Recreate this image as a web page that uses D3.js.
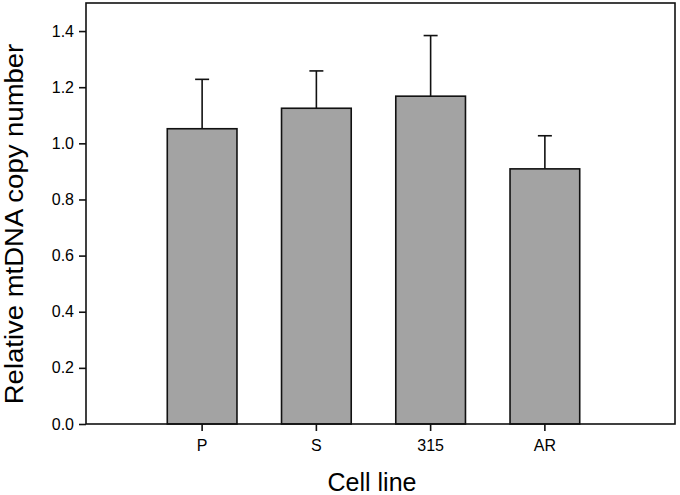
<!DOCTYPE html>
<html><head><meta charset="utf-8">
<script src="https://cdn.jsdelivr.net/npm/d3@7"></script>
<style>body{margin:0;background:#fff}svg{display:block}text{font-family:"Liberation Sans",Arial,sans-serif;fill:#000}</style>
</head><body>
<svg id="c" width="680" height="495"></svg>
<script>
const categories = ["P", "S", "315", "AR"];
const values = [1.052, 1.125, 1.168, 0.909];
const errors = [0.176, 0.133, 0.216, 0.118];
const yTicks = [0.0, 0.2, 0.4, 0.6, 0.8, 1.0, 1.2, 1.4];

const svg = d3.select("#c");
const L = 86, R = 675, T = 3, B = 424;

const y = d3.scaleLinear().domain([0, 1.5]).range([B, T]);
const x = d3.scaleBand().domain(categories).range([145, 602]).paddingInner(0.39).paddingOuter(0.195);

// bars
svg.append("g").selectAll("rect").data(categories).join("rect")
  .attr("x", d => x(d)).attr("width", x.bandwidth())
  .attr("y", (d, i) => y(values[i])).attr("height", (d, i) => y(0) - y(values[i]))
  .attr("fill", "#a3a3a3").attr("stroke", "#111").attr("stroke-width", 1.6);

// error bars
const eb = svg.append("g").attr("stroke", "#111").attr("stroke-width", 1.6);
categories.forEach((c, i) => {
  const cx = x(c) + x.bandwidth() / 2;
  eb.append("line").attr("x1", cx).attr("x2", cx).attr("y1", y(values[i])).attr("y2", y(values[i] + errors[i]));
  eb.append("line").attr("x1", cx - 7).attr("x2", cx + 7).attr("y1", y(values[i] + errors[i])).attr("y2", y(values[i] + errors[i]));
});

// frame
svg.append("rect").attr("x", L).attr("y", T).attr("width", R - L).attr("height", B - T)
  .attr("fill", "none").attr("stroke", "#111").attr("stroke-width", 1.6);

// y axis
const ya = svg.append("g").attr("transform", `translate(${L},0)`)
  .call(d3.axisLeft(y).tickValues(yTicks).tickFormat(d3.format(".1f")).tickSize(7).tickPadding(5));
ya.select(".domain").remove();
ya.selectAll("line").attr("stroke", "#111").attr("stroke-width", 1.6);
ya.selectAll("text").attr("font-size", 16).attr("font-family", "Liberation Sans, Arial, sans-serif");

// x axis
const xa = svg.append("g").attr("transform", `translate(0,${B})`)
  .call(d3.axisBottom(x).tickSize(7).tickPadding(9));
xa.select(".domain").remove();
xa.selectAll("line").attr("stroke", "#111").attr("stroke-width", 1.6);
xa.selectAll("text").attr("font-size", 16).attr("font-family", "Liberation Sans, Arial, sans-serif");

// labels
svg.append("text").attr("x", 372).attr("y", 491).attr("text-anchor", "middle").attr("font-size", 25).text("Cell line");
svg.append("text").attr("transform", "translate(23,224) rotate(-90) scale(1.1,1)").attr("text-anchor", "middle").attr("font-size", 25).text("Relative mtDNA copy number");
</script>
</body></html>
